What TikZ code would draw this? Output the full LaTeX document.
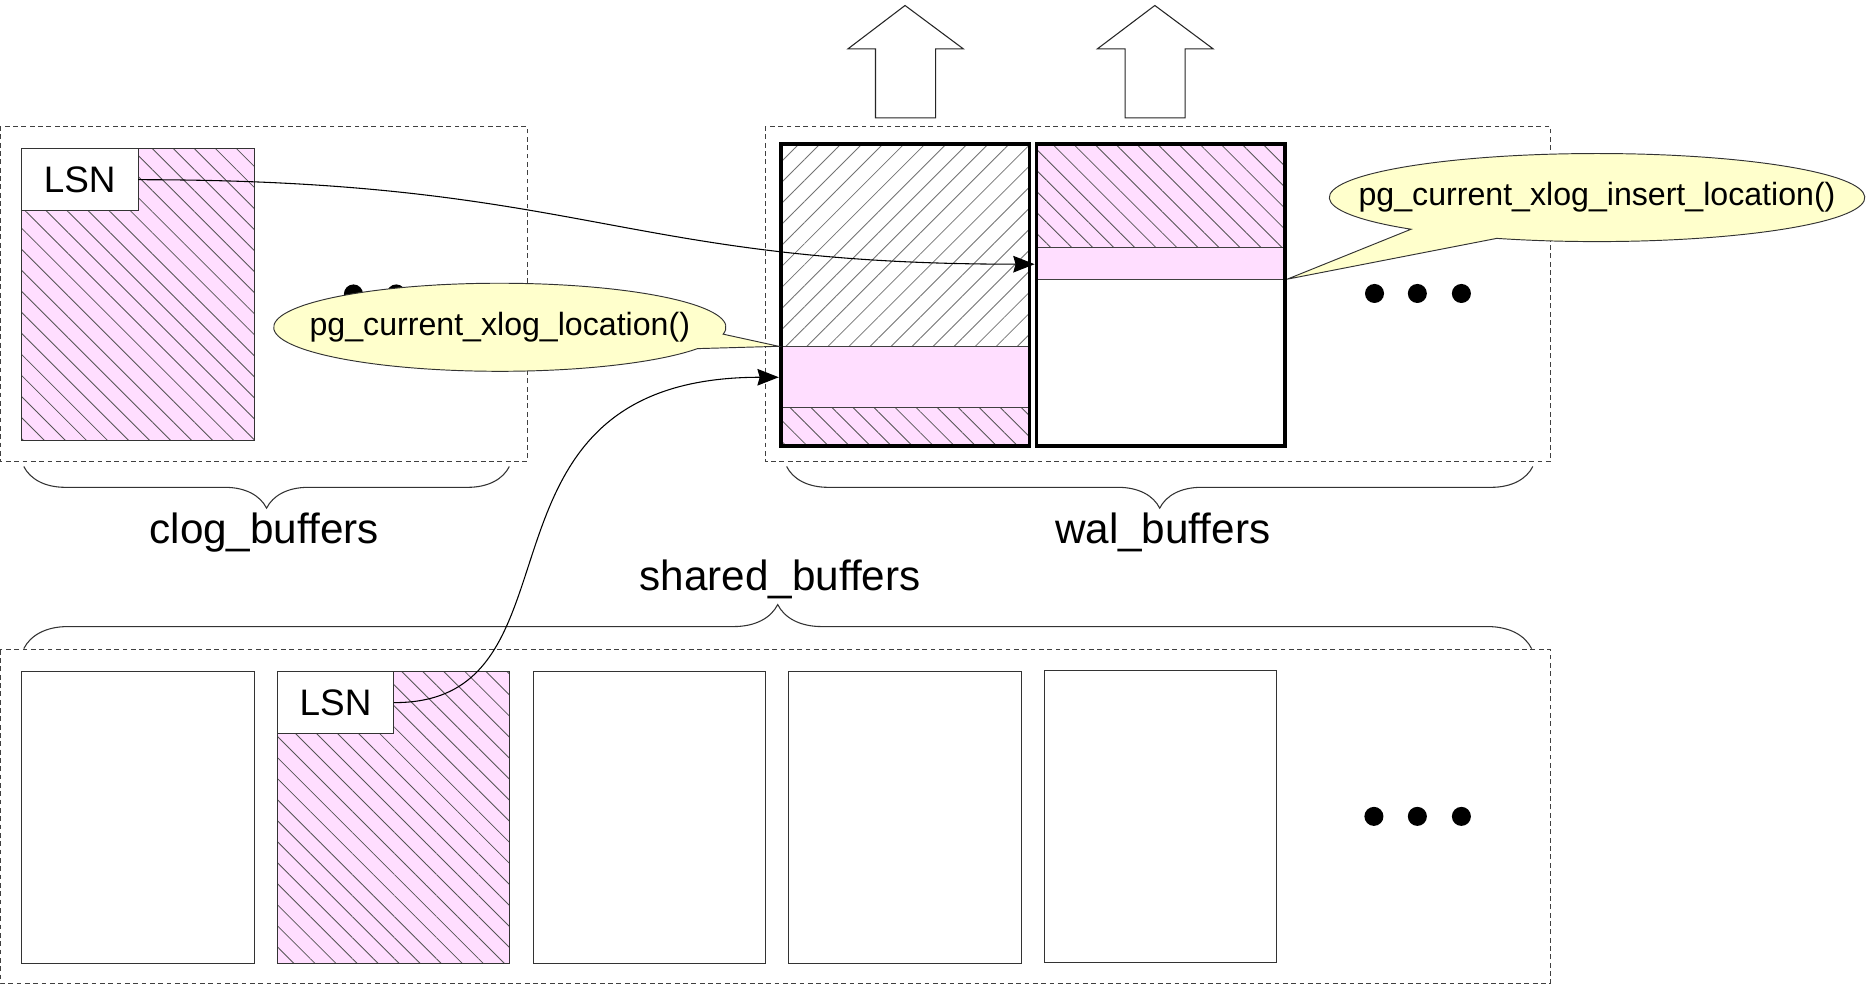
\documentclass[tikz,border=0pt]{standalone}
\usepackage{fontspec}
\setmainfont{Liberation Sans}
\usetikzlibrary{arrows.meta,patterns.meta,decorations.pathreplacing,calc}
\definecolor{pinkfill}{RGB}{255,222,255}
\definecolor{callfill}{RGB}{255,255,204}
\definecolor{hatchc}{RGB}{85,85,85}
\begin{document}
\begin{tikzpicture}[x=1pt,y=-1pt,
  frame/.style={draw=black!75, line width=0.8pt, dash pattern=on 4pt off 3pt},
  pagebase/.style={draw=black!80, line width=0.9pt, minimum width=195.5pt, minimum height=245pt, inner sep=0pt, outer sep=0pt, anchor=north west},
  page/.style={pagebase, fill=white},
  hatched/.style={preaction={fill=pinkfill}, pattern={Lines[angle=-45,distance=12.5pt,line width=0.7pt]}, pattern color=hatchc},
  grayhatch/.style={pattern={Lines[angle=45,distance=12.5pt,line width=0.7pt]}, pattern color=black!55},
  hpage/.style={pagebase, hatched},
  walpage/.style={draw=black, line width=3.2pt, minimum width=209pt, minimum height=254pt, inner sep=0pt, outer sep=0pt, anchor=north west},
  lsnbox/.style={draw=black!80, line width=0.9pt, fill=white, minimum width=98pt, minimum height=52pt, inner sep=0pt, outer sep=0pt, anchor=north west, font=\fontsize{31}{36}\selectfont},
  sep/.style={draw=black!75, line width=0.8pt},
  lbl/.style={font=\fontsize{35.5}{40}\selectfont, anchor=base, inner sep=0pt},
  calltext/.style={font=\fontsize{27}{32}\selectfont, inner sep=0pt},
  callout/.style={draw=black!80, line width=0.8pt, fill=callfill},
  blockarrow/.style={draw=black!85, line width=0.9pt, fill=white},
  bracetwo/.style={draw=black!80, line width=0.9pt, decorate},
  dot/.style={fill=black},
  conn/.style={draw=black, line width=0.9pt, -{Stealth[length=18pt,width=14pt,inset=2pt]}}
]
\useasboundingbox (0,0) rectangle (1568,827.7);

% ---------- dashed frames ----------
\draw[frame] (0,106) rectangle (443,388);
\draw[frame] (643,106) rectangle (1303,388);
\draw[frame] (0,546) rectangle (1303,826);

% ---------- top block arrows ----------
\draw[blockarrow] (760.5,4.6) -- (809.4,41) -- (786.2,41) -- (786.2,99) -- (735.7,99) -- (735.7,41) -- (712.6,41) -- cycle;
\draw[blockarrow] (970.4,4.6) -- (1019.3,41) -- (995.8,41) -- (995.8,99) -- (945.4,99) -- (945.4,41) -- (922.2,41) -- cycle;

% ---------- clog buffer page ----------
\node[hpage] (c1) at (18,125) {};
\node[lsnbox] (lsnc) at (18,125) {LSN};

% clog dots (mostly hidden by the callout)
\fill[dot] (297,247) circle (8);
\fill[dot] (333,247) circle (8);
\fill[dot] (369,247) circle (8);

% ---------- wal buffer pages ----------
\fill[white] (656,121) rectangle (865,291);
\path[grayhatch] (656,121) rectangle (865,291);
\fill[pinkfill] (656,291) rectangle (865,375);
\path[hatched] (656,342) rectangle (865,375);
\draw[sep] (656,291) -- (865,291);
\draw[sep] (656,342) -- (865,342);
\node[walpage] (w1) at (656,121) {};

\fill[white] (871,121) rectangle (1080,375);
\path[hatched] (871,121) rectangle (1080,208);
\fill[pinkfill] (871,208) rectangle (1080,234.6);
\draw[sep] (871,208) -- (1080,208);
\draw[sep] (871,234.6) -- (1080,234.6);
\node[walpage] (w2) at (871,121) {};

\fill[dot] (1155,246.6) circle (8);
\fill[dot] (1191,246.6) circle (8);
\fill[dot] (1228,246.6) circle (8);

% ---------- shared buffer pages ----------
\node[page] (s1) at (18,564.4) {};
\node[hpage] (s2) at (233,564.4) {};
\node[lsnbox] (lsns) at (233,564.4) {LSN};
\node[page] (s3) at (448,564.4) {};
\node[page] (s4) at (662.5,564.4) {};
\node[page] (s5) at (877.5,563.5) {};

\fill[dot] (1154.5,686) circle (8);
\fill[dot] (1191,686) circle (8);
\fill[dot] (1228,686) circle (8);

% ---------- braces and labels ----------
\draw[bracetwo, decoration={brace, amplitude=35pt}] (428,392) -- (20,392);
\draw[bracetwo, decoration={brace, amplitude=35pt}] (1288,392) -- (661,392);
\draw[bracetwo, decoration={brace, amplitude=37pt}] (20,545) -- (1287,545);
\node[lbl] (clogl) at (222,457) {clog\_buffers};
\node[lbl] (wall) at (977,457) {wal\_buffers};
\node[lbl] (sharedl) at (655.5,496) {shared\_buffers};

% ---------- callouts ----------
\coordinate (loc0) at (420,275);
\coordinate (loctip) at (654.4,291);
\draw[callout] ($(loc0)+(9:190 and 37)$) arc[start angle=9, end angle=-331, x radius=190, y radius=37] -- (loctip) -- cycle;
\node[calltext] (locc) at (loc0) {pg\_current\_xlog\_location()};

\coordinate (ins0) at (1342,166);
\coordinate (instip) at (1081.6,234.6);
\draw[callout] ($(ins0)+(134:225 and 37)$) arc[start angle=134, end angle=472, x radius=225, y radius=37] -- (instip) -- cycle;
\node[calltext] (insc) at (ins0) {pg\_current\_xlog\_insert\_location()};

% ---------- connectors ----------
\coordinate (w2in) at (869.4,222);
\coordinate (w1in) at (654.4,317);
\draw[conn] (lsnc.east) .. controls (490,151) and (520,222) .. (w2in);
\draw[conn] (lsns.east) .. controls (500,591) and (380,317) .. (w1in);
\end{tikzpicture}
\end{document}
